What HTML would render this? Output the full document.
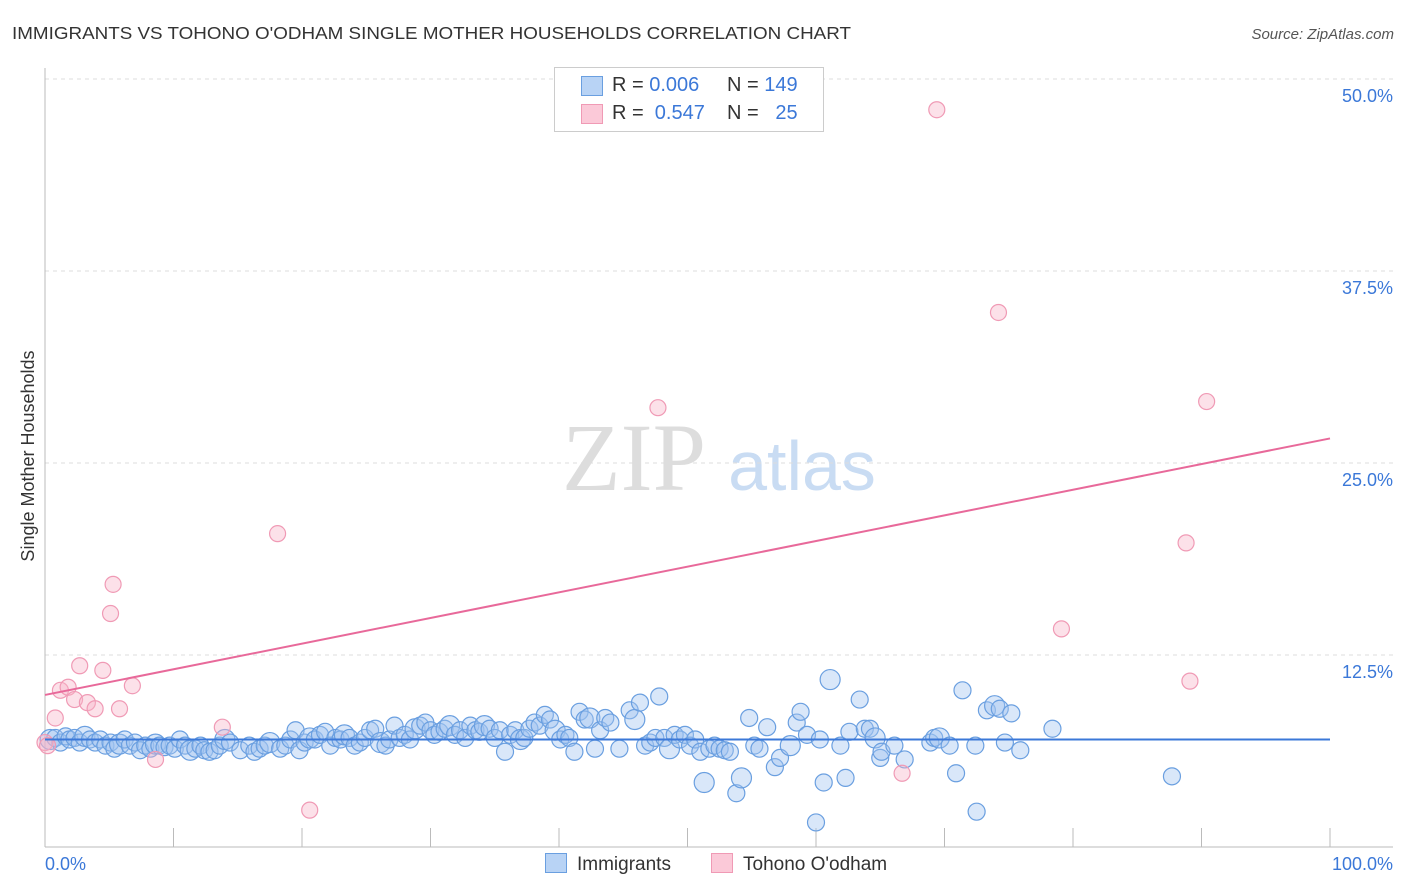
<!DOCTYPE html>
<html><head><meta charset="utf-8"><style>
body{margin:0;background:#fff;font-family:"Liberation Sans",sans-serif;}
#wrap{position:relative;width:1406px;height:892px;overflow:hidden;}
</style></head><body>
<div id="wrap">
<svg id="svg" width="1406" height="892" xmlns="http://www.w3.org/2000/svg">
<text x="12" y="39" font-size="17.5" fill="#333" textLength="839" lengthAdjust="spacingAndGlyphs">IMMIGRANTS VS TOHONO O'ODHAM SINGLE MOTHER HOUSEHOLDS CORRELATION CHART</text>
<text x="1394" y="39" font-size="15" fill="#555" font-style="italic" text-anchor="end">Source: ZipAtlas.com</text>
<text x="34" y="456" font-size="18" fill="#333" text-anchor="middle" transform="rotate(-90 34 456)">Single Mother Households</text>
<g><text x="634" y="490" font-size="96" font-family="Liberation Serif,serif" fill="#ddd" text-anchor="middle">ZIP</text><text x="802" y="490" font-size="70" fill="#c9dcf3" text-anchor="middle">atlas</text></g>
<g id="grid"></g><g id="marks"></g>
</svg>
<div style="position:absolute;left:554px;top:67px;width:268px;height:63px;border:1px solid #ccc;background:#fff;font-size:20px;color:#333">
<div style="position:absolute;left:26px;top:8px;width:20px;height:18px;background:#b8d3f5;border:1px solid #6a9fe0"></div>
<div style="position:absolute;left:57px;top:6px">R = <span style="color:#3b78d8">0.006</span></div>
<div style="position:absolute;left:172px;top:6px">N = <span style="color:#3b78d8">149</span></div>
<div style="position:absolute;left:26px;top:36px;width:20px;height:18px;background:#fbc9d8;border:1px solid #f09ab5"></div>
<div style="position:absolute;left:57px;top:34px">R = &nbsp;<span style="color:#3b78d8">0.547</span></div>
<div style="position:absolute;left:172px;top:34px">N = &nbsp;&nbsp;<span style="color:#3b78d8">25</span></div>
</div>
<div style="position:absolute;left:545px;top:853px;font-size:19px;color:#333"><span style="display:inline-block;width:20px;height:18px;background:#b8d3f5;border:1px solid #6a9fe0;vertical-align:-3px;margin-right:10px"></span>Immigrants</div>
<div style="position:absolute;left:711px;top:853px;font-size:19px;color:#333"><span style="display:inline-block;width:20px;height:18px;background:#fbc9d8;border:1px solid #f09ab5;vertical-align:-3px;margin-right:10px"></span>Tohono O'odham</div>
</div>
<script>
const blueX=[0.4,0.8,1.2,1.6,1.9,2.3,2.7,3.1,3.5,3.9,4.3,4.7,5.1,5.4,5.8,6.2,6.6,7.0,7.4,7.8,8.2,8.6,8.9,9.3,9.7,10.1,10.5,10.9,11.3,11.7,12.1,12.4,12.8,13.2,13.6,14.0,14.4,15.2,15.9,16.3,16.7,17.1,17.5,18.3,18.7,19.1,19.5,19.8,20.2,20.6,21.0,21.4,21.8,22.2,22.6,23.0,23.3,23.7,24.1,24.5,24.9,25.3,25.7,26.1,26.5,26.8,27.2,27.6,28.0,28.4,28.8,29.2,29.6,30.0,30.3,30.7,31.1,31.5,31.9,32.3,32.7,33.1,33.5,33.8,34.2,34.6,35.0,35.4,35.8,36.2,36.6,37.0,37.3,37.7,38.1,38.5,38.9,39.3,39.7,40.1,40.5,40.8,41.2,41.6,42.0,42.4,42.8,43.2,43.6,44.0,44.7,45.5,45.9,46.3,46.7,47.1,47.5,47.8,48.2,48.6,49.0,49.4,49.8,50.2,50.6,51.0,51.3,51.7,52.1,52.5,52.9,53.3,53.8,54.2,54.8,55.2,55.6,56.2,56.8,57.2,58.0,58.5,58.8,59.3,60.0,60.3,60.6,61.1,61.9,62.3,62.6,63.4,63.8,64.2,64.6,65.0,65.1,66.1,66.9,68.9,69.2,69.6,70.4,70.9,71.4,72.4,72.5,73.3,73.9,74.3,74.7,75.2,75.9,78.4,87.7];
const blueY=[7.0,7.1,6.8,7.2,7.0,7.1,6.8,7.2,7.0,6.8,7.0,6.6,6.8,6.4,6.7,7.0,6.6,6.8,6.3,6.6,6.4,6.7,6.6,6.5,6.6,6.4,7.0,6.6,6.3,6.4,6.6,6.3,6.2,6.3,6.6,7.0,6.8,6.3,6.6,6.2,6.4,6.6,6.8,6.4,6.6,7.0,7.6,6.3,6.8,7.1,7.0,7.3,7.5,6.6,7.1,7.0,7.3,7.1,6.6,6.8,7.1,7.6,7.7,6.8,6.6,7.0,7.9,7.1,7.3,7.0,7.7,7.9,8.1,7.6,7.3,7.5,7.7,7.9,7.3,7.6,7.1,7.9,7.6,7.5,7.9,7.7,7.1,7.6,6.2,7.3,7.6,7.0,7.1,7.7,8.1,7.9,8.6,8.3,7.6,7.0,7.3,7.1,6.2,8.8,8.3,8.4,6.4,7.6,8.4,8.1,6.4,8.9,8.3,9.4,6.6,6.8,7.1,9.8,7.1,6.4,7.3,7.0,7.3,6.6,7.0,6.2,4.2,6.4,6.6,6.4,6.3,6.2,3.5,4.5,8.4,6.6,6.4,7.8,5.2,5.8,6.6,8.1,8.8,7.3,1.6,7.0,4.2,10.9,6.6,4.5,7.5,9.6,7.7,7.7,7.1,5.8,6.2,6.6,5.7,6.8,7.1,7.1,6.6,4.8,10.2,6.6,2.3,8.9,9.2,9.0,6.8,8.7,6.3,7.7,4.6];
const pinkX=[0,0.2,0.8,1.2,1.8,2.3,2.7,3.3,3.9,4.5,5.1,5.3,5.8,6.8,8.6,13.8,18.1,20.6,47.7,66.7,69.4,74.2,79.1,88.8,89.1,90.4];
const pinkY=[6.8,6.6,8.4,10.2,10.4,9.6,11.8,9.4,9.0,11.5,15.2,17.1,9.0,10.5,5.7,7.8,20.4,2.4,28.6,4.8,48.0,34.8,14.2,19.8,10.8,29.0];
const blueTrend=[7.0,7.0];
const pinkTrend=[9.9,26.6];
const yTicks=[12.5,25.0,37.5,50.0];
const xTickVals=[0,10,20,30,40,50,60,70,80,90,100];
const NS="http://www.w3.org/2000/svg";
const sx=v=>45+v*12.85, sy=v=>847-v*15.36;
function mk(t,a,p){const e=document.createElementNS(NS,t);for(const k in a)e.setAttribute(k,a[k]);p.appendChild(e);return e;}
const g=document.getElementById('grid'), m=document.getElementById('marks');
yTicks.forEach(v=>{
 const l=mk('line',{x1:45,x2:1393,y1:sy(v),y2:sy(v),stroke:'#ddd','stroke-dasharray':'4,4'},g);
 
 
 const t=mk('text',{x:1393,y:sy(v)+23,'text-anchor':'end','font-size':18,fill:'#3b78d8'},g);
 t.textContent=v.toFixed(1)+'%';
 
 
});
const ax=mk('line',{x1:45,x2:1393,y1:847,y2:847,stroke:'#bbb'},g);


const ay=mk('line',{x1:45,x2:45,y1:68,y2:847,stroke:'#bbb'},g);


xTickVals.forEach(v=>{
 const l=mk('line',{x1:sx(v),x2:sx(v),y1:828,y2:847,stroke:'#bbb'},g);
 
 
});
[[0,'0.0%','start',45],[100,'100.0%','end',1393]].forEach(d=>{
 const t=mk('text',{x:d[3],y:870,'text-anchor':d[2],'font-size':18,fill:'#3b78d8'},g);
 t.textContent=d[1];
 
 
});
blueX.forEach((x,i)=>{
 const c=mk('circle',{cx:sx(x),cy:sy(blueY[i]),r:(i%7==0?10:8.5),fill:'rgba(160,196,240,0.4)',stroke:'#6a9fe0','stroke-width':1.2},m);
 
 
});
pinkX.forEach((x,i)=>{
 const c=mk('circle',{cx:sx(x),cy:sy(pinkY[i]),r:8,fill:'rgba(248,180,200,0.4)',stroke:'#f09ab5','stroke-width':1.2},m);
 
 
});
const bl=mk('line',{x1:sx(0),x2:sx(100),y1:sy(blueTrend[0]),y2:sy(blueTrend[1]),stroke:'#3b78d8','stroke-width':2},m);


const pl=mk('line',{x1:sx(0),x2:sx(100),y1:sy(pinkTrend[0]),y2:sy(pinkTrend[1]),stroke:'#e8699a','stroke-width':2},m);


</script>
</body></html>
